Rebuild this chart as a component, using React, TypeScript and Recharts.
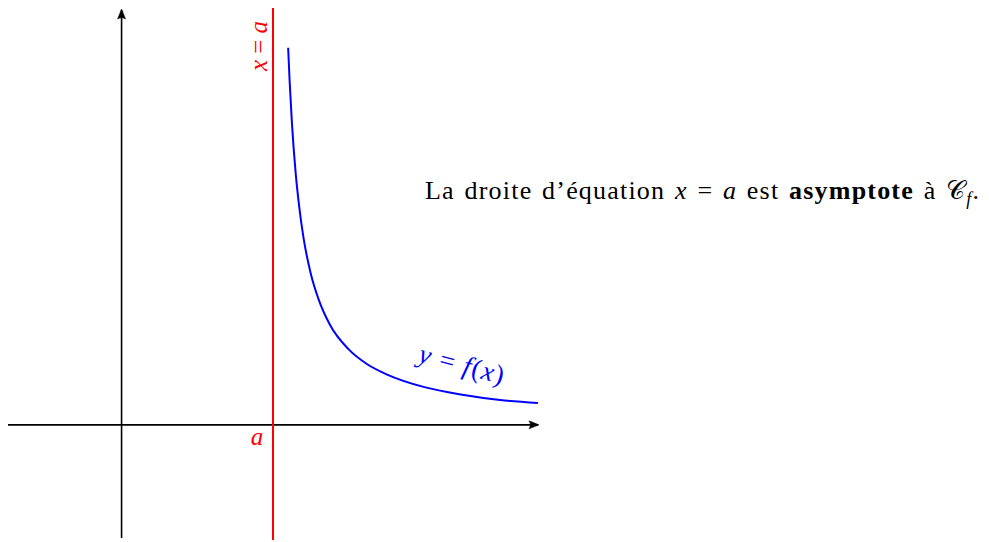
import React from "react";
import { ComposedChart, Line, XAxis, YAxis, ReferenceLine, ReferenceDot } from "recharts";

// Curve y = f(x)
const curveX = [2.2, 2.22, 2.25, 2.3, 2.35, 2.4, 2.5, 2.6, 2.75, 3.0, 3.25, 3.5, 4.0, 4.5, 5.0, 5.5];
const curveY = [5.0, 4.55, 4.0, 3.33, 2.86, 2.5, 2.0, 1.67, 1.33, 1.0, 0.8, 0.67, 0.5, 0.4, 0.33, 0.29];

const xDomain: [number, number] = [-1.5, 5.5];
const yDomain: [number, number] = [-1.5, 5.5];
const asymptoteX = 2;
const curveLabelPos = { x: 4.5, y: 0.8 };

const data = curveX.map((x, i) => ({ x, y: curveY[i] }));

const SERIF = "'Liberation Serif', 'DejaVu Serif', serif";

const arrowLine = (dir: "right" | "up", color: string, width: number) => (props: any) => {
  const { x1, y1, x2, y2 } = props;
  let head = "";
  if (dir === "right") {
    const tx = Math.max(x1, x2) + 1, ty = y1;
    head = `M${tx},${ty} L${tx - 10},${ty - 4} Q${tx - 7},${ty} ${tx - 10},${ty + 4} Z`;
  } else {
    const tx = x1, ty = Math.min(y1, y2) - 1;
    head = `M${tx},${ty} L${tx - 4},${ty + 10} Q${tx},${ty + 7} ${tx + 4},${ty + 10} Z`;
  }
  return (
    <g>
      <line x1={x1} y1={y1} x2={x2} y2={y2} stroke={color} strokeWidth={width} />
      <path d={head} fill={color} stroke={color} strokeWidth={0.5} />
    </g>
  );
};

const plainLine = (color: string, width: number) => (props: any) => {
  const { x1, y1, x2, y2 } = props;
  const top = Math.min(y1, y2) - 2;
  const bottom = Math.max(y1, y2) + 6;
  return <line x1={x1} y1={top} x2={x2} y2={bottom} stroke={color} strokeWidth={width} />;
};

const asymLabel = (props: any) => {
  const { viewBox } = props;
  const cx = viewBox.x - 15;
  const cy = viewBox.y + 36;
  return (
    <text
      x={cx}
      y={cy}
      transform={`rotate(-90 ${cx} ${cy})`}
      fill="#ff0000"
      fontFamily={SERIF}
      fontSize={25}
      textAnchor="middle"
      dominantBaseline="central"
    >
      <tspan fontStyle="italic">x</tspan> = <tspan fontStyle="italic">a</tspan>
    </text>
  );
};

const aLabel = (props: any) => {
  const { viewBox } = props;
  const cx = viewBox.x + viewBox.width / 2;
  const cy = viewBox.y + viewBox.height / 2;
  return (
    <text x={cx - 16} y={cy + 20} fill="#ff0000" fontFamily={SERIF} fontSize={25} fontStyle="italic" textAnchor="middle">
      a
    </text>
  );
};

const curveLabel = (props: any) => {
  const { viewBox } = props;
  const cx = viewBox.x + viewBox.width / 2;
  const cy = viewBox.y + viewBox.height / 2;
  return (
    <text
      x={cx}
      y={cy}
      transform={`rotate(15 ${cx} ${cy})`}
      fill="#0000ff"
      fontFamily={SERIF}
      fontSize={27}
      textAnchor="middle"
      dominantBaseline="central"
      letterSpacing={1.3}
    >
      <tspan fontStyle="italic">y</tspan> = <tspan fontStyle="italic">f</tspan>(<tspan fontStyle="italic">x</tspan>)
    </text>
  );
};

export default function App() {
  return (
    <div style={{ position: "relative", width: 981, height: 532 }}>
      <ComposedChart width={981} height={532} data={data} margin={{ top: 2, right: 451, bottom: 2, left: 0 }}>
        <XAxis type="number" dataKey="x" domain={xDomain} hide allowDataOverflow />
        <YAxis type="number" domain={yDomain} hide allowDataOverflow />
        <ReferenceLine
          segment={[{ x: xDomain[0], y: 0 }, { x: xDomain[1], y: 0 }]}
          shape={arrowLine("right", "#000", 1.6)}
          ifOverflow="visible"
        />
        <ReferenceLine
          segment={[{ x: 0, y: yDomain[0] }, { x: 0, y: yDomain[1] }]}
          shape={arrowLine("up", "#000", 1.6)}
          ifOverflow="visible"
        />
        <ReferenceLine
          segment={[{ x: asymptoteX, y: yDomain[0] }, { x: asymptoteX, y: yDomain[1] }]}
          shape={plainLine("#ff0000", 2)}
          ifOverflow="visible"
          label={asymLabel}
        />
        <Line
          type="monotone"
          dataKey="y"
          stroke="#0000ff"
          strokeWidth={2}
          dot={false}
          isAnimationActive={false}
        />
        <ReferenceDot x={asymptoteX} y={0} r={0} fill="none" stroke="none" ifOverflow="visible" label={aLabel} />
        <ReferenceDot x={curveLabelPos.x} y={curveLabelPos.y} r={0} fill="none" stroke="none" ifOverflow="visible" label={curveLabel} />
      </ComposedChart>
      <div
        style={{
          position: "absolute",
          left: 417,
          top: 168,
          fontFamily: SERIF,
          fontSize: 26,
          color: "#000",
          whiteSpace: "nowrap",
          lineHeight: "30px",
          letterSpacing: 1.2,
          wordSpacing: 2,
        }}
      >
        La droite d’équation <i>x</i> = <i>a</i> est <b>asymptote</b> à 𝒞<sub style={{ fontSize: 18, fontStyle: "italic" }}>f</sub>.
      </div>
    </div>
  );
}
